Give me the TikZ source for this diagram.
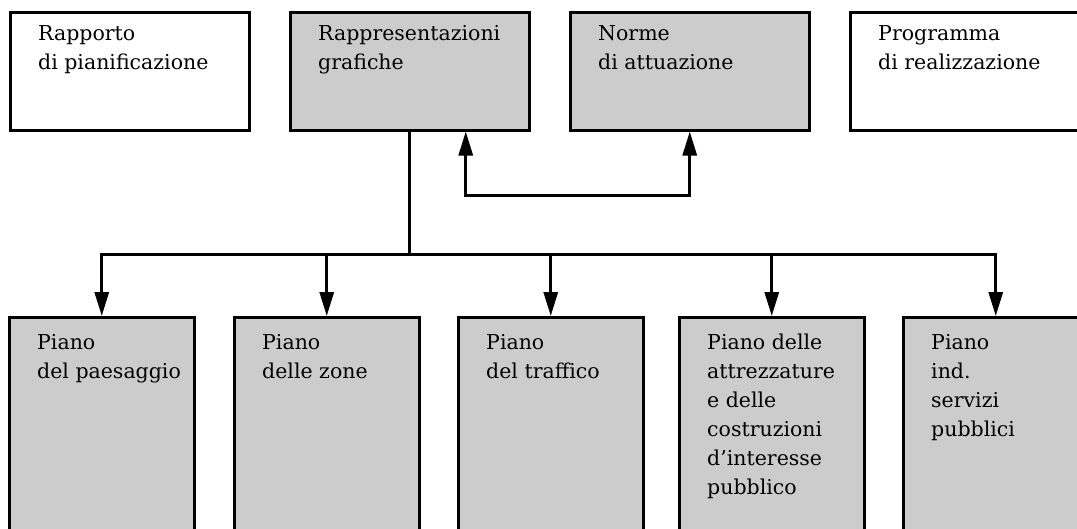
\documentclass[tikz,border=0pt]{standalone}
\usepackage{fontspec}
\setmainfont{DejaVu Serif}
\usetikzlibrary{arrows.meta, positioning, calc}
\definecolor{boxgray}{gray}{0.8}

\begin{document}
\begin{tikzpicture}[
        x=1pt, y=-1pt,
        bigtip/.tip={Triangle[length=24pt, width=14pt]},
        box/.style={rectangle, draw, line width=2.5pt, anchor=north west, inner sep=0pt},
        topbox/.style={box, minimum width=239pt, minimum height=118pt},
        lowbox/.style={box, fill=boxgray, minimum width=185pt, minimum height=240pt},
        boxtext/.style={anchor=north west, inner sep=0pt, align=left, font={\fontsize{20.5}{29}\selectfont}},
        line/.style={line width=3pt},
        arrow/.style={-bigtip, line width=3pt},
        dblarrow/.style={bigtip-bigtip, line width=3pt}
    ]
        \useasboundingbox (0,0) rectangle (1077,528);
        \clip (0,0) rectangle (1077,528);

        % upper row
        \node[topbox] (rapporto) at (9,11) {};
        \node[topbox, fill=boxgray] (grafiche) at (289,11) {};
        \node[topbox, fill=boxgray] (norme) at (569,11) {};
        \node[topbox] (programma) at (849,11) {};

        \node[boxtext] (rapporto_t) at ([shift={(29,14)}]rapporto.north west) {Rapporto\\di pianificazione};
        \node[boxtext] (grafiche_t) at ([shift={(29,14)}]grafiche.north west) {Rappresentazioni\\grafiche};
        \node[boxtext] (norme_t) at ([shift={(29,14)}]norme.north west) {Norme\\di attuazione};
        \node[boxtext] (programma_t) at ([shift={(29,14)}]programma.north west) {Programma\\di realizzazione};

        % lower row
        \node[lowbox] (paesaggio) at (8,316) {};
        \node[lowbox] (zone) at (233,316) {};
        \node[lowbox] (traffico) at (457,316) {};
        \node[lowbox] (attrezzature) at (678,316) {};
        \node[lowbox] (servizi) at (902,316) {};

        \node[boxtext] (paesaggio_t) at ([shift={(29,18)}]paesaggio.north west) {Piano\\del paesaggio};
        \node[boxtext] (zone_t) at ([shift={(29,18)}]zone.north west) {Piano\\delle zone};
        \node[boxtext] (traffico_t) at ([shift={(29,18)}]traffico.north west) {Piano\\del traffico};
        \node[boxtext] (attrezzature_t) at ([shift={(29,18)}]attrezzature.north west) {Piano delle\\attrezzature\\e delle\\costruzioni\\d'interesse\\pubblico};
        \node[boxtext] (servizi_t) at ([shift={(29,18)}]servizi.north west) {Piano\\ind.\\servizi\\pubblici};

        % connectors
        \coordinate (bus) at (0,254);
        \draw[dblarrow] ([xshift=56pt]grafiche.south) -- ++(0,64) -| (norme.south);
        \draw[line] (grafiche.south) -- (grafiche.south |- bus);
        \draw[line, line cap=rect] (paesaggio.north |- bus) -- (servizi.north |- bus);
        \draw[arrow] (paesaggio.north |- bus) -- (paesaggio.north);
        \draw[arrow] (zone.north |- bus) -- (zone.north);
        \draw[arrow] (traffico.north |- bus) -- (traffico.north);
        \draw[arrow] (attrezzature.north |- bus) -- (attrezzature.north);
        \draw[arrow] (servizi.north |- bus) -- (servizi.north);
    \end{tikzpicture}
\end{document}
